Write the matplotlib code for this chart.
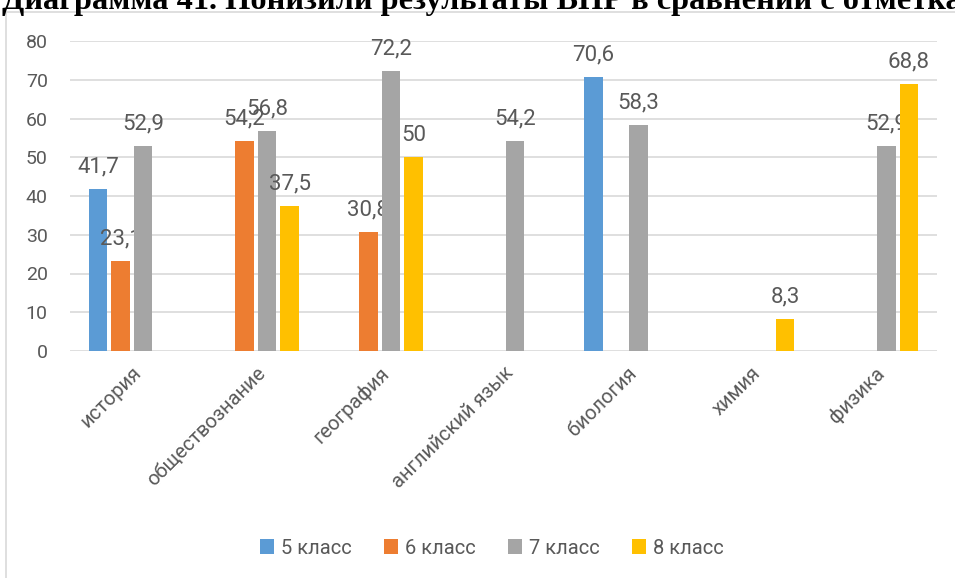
import numpy as np
import matplotlib
matplotlib.use("Agg")
import matplotlib.pyplot as plt
from matplotlib.patches import Rectangle

subjects = ["история", "обществознание", "география", "английский язык",
            "биология", "химия", "физика"]
series_names = ["5 класс", "6 класс", "7 класс", "8 класс"]
class5 = [41.7, np.nan, np.nan, np.nan, 70.6, np.nan, np.nan]
class6 = [23.1, 54.2, 30.8, np.nan, np.nan, np.nan, np.nan]
class7 = [52.9, 56.8, 72.2, 54.2, 58.3, np.nan, 52.9]
class8 = [np.nan, 37.5, 50, np.nan, np.nan, 8.3, 68.8]
colors = ["#5b9bd5", "#ed7d31", "#a5a5a5", "#ffc000"]

title = "Диаграмма 41. Понизили результаты ВПР в сравнении с отметками по журналу"

plt.rcParams['font.family'] = ['Roboto', 'DejaVu Sans']
txt = "#595959"

fig = plt.figure(figsize=(9.55, 5.78), dpi=100)
fig.patches.append(Rectangle((6 / 955, -0.1), 1.2, 1 - 12 / 578 + 0.1,
                             transform=fig.transFigure, fill=False,
                             edgecolor="#d9d9d9", linewidth=1.2, clip_on=False))
fig.text(2 / 955, 1 - 9 / 578, title, family="Liberation Serif", weight="bold",
         fontsize=23.3, va="baseline", ha="left")

ax = fig.add_axes([70 / 955, 1 - 351 / 578, 867 / 955, 310 / 578])
x = np.arange(len(subjects))
step = 0.182
width = 0.148
for i, (vals, name) in enumerate(zip([class5, class6, class7, class8], series_names)):
    pos = x + (i - 1.5) * step
    ax.bar(pos, vals, width, color=colors[i], label=name, zorder=3)
    for p, v in zip(pos, vals):
        if not np.isnan(v):
            lab = ("%g" % v).replace(".", ",")
            ax.annotate(lab, (p, v), xytext=(0, 12), textcoords="offset points",
                        ha="center", va="baseline", fontsize=16, color=txt)

ax.set_xlim(-0.5, len(subjects) - 0.5)
ax.set_ylim(0, 80)
ax.set_yticks(range(0, 81, 10))
ax.yaxis.grid(True, color="#d9d9d9", linewidth=1.2, zorder=0)
for s in ax.spines.values():
    s.set_visible(False)
ax.tick_params(axis="both", length=0, colors=txt)
ax.tick_params(axis="y", pad=16, labelsize=14)
ax.set_xticks(x)
ax.set_xticklabels(subjects, rotation=45, ha="right", rotation_mode="anchor",
                   fontsize=14.5, color=txt)
ax.tick_params(axis="x", pad=9)

leg = fig.legend(loc="center", bbox_to_anchor=(492 / 955, 1 - 548 / 578), ncol=4,
                 frameon=False, fontsize=14.5, handlelength=0.7, handleheight=0.7,
                 handletextpad=0.35, columnspacing=1.6, labelcolor=txt)

fig.savefig("out.png", dpi=100)
